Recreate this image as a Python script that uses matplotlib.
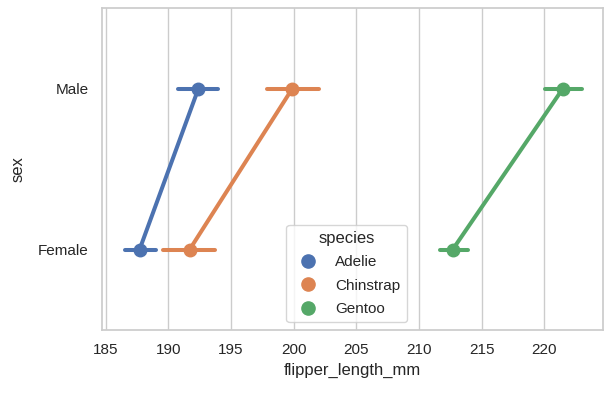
import matplotlib
matplotlib.use("Agg")
import matplotlib.pyplot as plt
from matplotlib.lines import Line2D
import seaborn as sns

sns.set_theme(style="whitegrid", context="notebook")
plt.rcParams['font.family'] = ['Arial', 'Liberation Sans', 'DejaVu Sans']

sex = ["Male", "Female"]
species = ["Adelie", "Chinstrap", "Gentoo"]
means = {"Adelie": [192.4, 187.7], "Chinstrap": [199.9, 191.7], "Gentoo": [221.5, 212.7]}
ci_low = {"Adelie": [190.8, 186.5], "Chinstrap": [197.9, 189.6], "Gentoo": [220.1, 211.7]}
ci_high = {"Adelie": [194.0, 189.0], "Chinstrap": [202.0, 193.7], "Gentoo": [223.0, 213.9]}
colors = sns.color_palette("deep", 3)

fig = plt.figure(figsize=(6.12, 3.93), dpi=100)
ax = fig.add_axes([102/612, 1-330/393, (603-102)/612, (330-8)/393])

ypos = list(range(len(sex)))
handles = []
for sp, c in zip(species, colors):
    for y, lo, hi in zip(ypos, ci_low[sp], ci_high[sp]):
        ax.plot([lo, hi], [y, y], color=c, lw=2.9, solid_capstyle="round", zorder=2)
    ax.plot(means[sp], ypos, color=c, lw=2.9, marker="o", ms=9, zorder=3)
    handles.append(Line2D([], [], color=c, marker="o", ms=9.5, lw=0, label=sp))

ax.set_yticks(ypos)
ax.set_yticklabels(sex)
ax.set_ylim(1.5, -0.5)
ax.set_xlim(184.7, 224.7)
ax.set_xticks(range(185, 225, 5))
ax.grid(axis="y", visible=False)
ax.set_xlabel("flipper_length_mm")
ax.set_ylabel("sex", labelpad=9)
leg = ax.legend(handles=handles, title="species", loc="lower left",
                bbox_to_anchor=(0.353, 0.0), labelspacing=0.62)
fig.savefig("out.png", dpi=100)
